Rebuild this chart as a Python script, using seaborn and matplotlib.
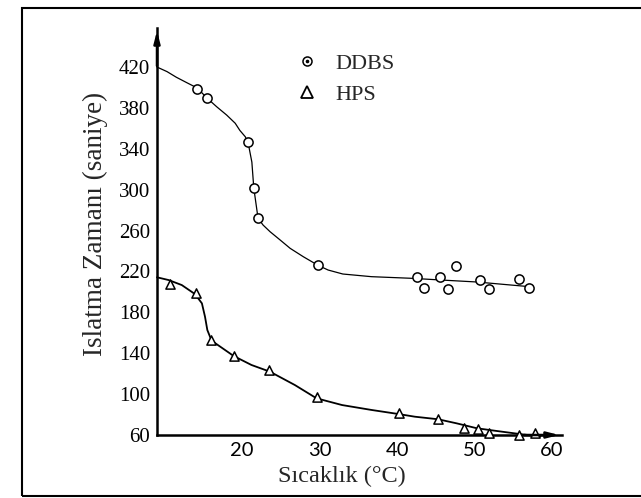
import matplotlib
matplotlib.use("Agg")
import matplotlib.pyplot as plt
from matplotlib.lines import Line2D
from matplotlib.patches import Rectangle
import seaborn as sns

# ---- data ----
ddbs_temp = [14.2, 15.45, 20.75, 21.5, 22.05, 29.8, 42.6, 43.5, 45.6, 46.6, 47.6, 50.7, 51.9, 55.8, 57.1]
ddbs_time = [399, 390, 347, 302, 272, 226, 215, 204, 215, 203, 225, 212, 203, 213, 204]

ddbs_curve_temp = [9.0, 10.3, 11.5, 12.9, 14.2, 15.45, 16.7, 18.0, 19.1, 19.7, 20.4, 20.75,
                   21.25, 21.5, 22.05, 22.7, 23.6, 24.9, 26.2, 27.9, 29.8, 31.1, 33.0,
                   36.7, 41.9, 46.0, 50.3, 54.0, 57.6]
ddbs_curve_time = [420, 415.5, 410, 404.5, 399.5, 389.7, 381.2, 373, 365, 358, 351.8, 346.6,
                   327, 301.6, 272, 265.4, 258.9, 250.8, 242.6, 234.4, 226, 221.4, 217.5,
                   214.9, 213.3, 211.5, 209.7, 207.2, 204.8]

hps_temp = [10.7, 14.0, 16.0, 19.0, 23.5, 29.7, 40.2, 45.3, 48.6, 50.5, 51.9, 55.8, 57.8]
hps_time = [208, 199, 153, 137, 124, 97, 82, 76, 67, 66, 62, 60, 62]

hps_curve_temp = [9.0, 10.5, 12.2, 13.9, 14.8, 15.2, 15.5, 16.05, 18.9, 21.2, 23.6, 26.8,
                  29.6, 32.9, 36.7, 40.2, 42.3, 45.3, 47.7, 50.3, 53.0, 55.8, 58.5]
hps_curve_time = [214.3, 211.6, 206.7, 197.9, 188.8, 175.7, 162.7, 152.3, 137.3, 128.5, 121.9, 108.9,
                  95.9, 89.3, 84.5, 80.5, 77.9, 75.4, 71.4, 66.6, 63.8, 61, 58.5]

x_ticks = [20, 30, 40, 50, 60]
y_ticks = [60, 100, 140, 180, 220, 260, 300, 340, 380, 420]
x_label = "Sıcaklık (°C)"
y_label = "Islatma Zamanı (saniye)"
series_names = ["DDBS", "HPS"]

# ---- style ----
sns.set_style("white")
plt.rcParams["font.family"] = ["Liberation Serif", "DejaVu Serif"]

W, H = 641, 498
fig = plt.figure(figsize=(W / 100, H / 100), dpi=100)
ax = fig.add_axes([157 / W, (H - 435) / H, (562 - 157) / W, (435 - 28) / H])

# fitted curves
sns.lineplot(x=ddbs_curve_temp, y=ddbs_curve_time, sort=False, estimator=None,
             color="black", lw=0.9, ax=ax)
sns.lineplot(x=hps_curve_temp, y=hps_curve_time, sort=False, estimator=None,
             color="black", lw=1.3, ax=ax)
for ln in ax.lines:
    ln.set_clip_on(False)
    ln.set_solid_joinstyle("round")

# measured points
sns.scatterplot(x=ddbs_temp, y=ddbs_time, marker="o", s=44, facecolor="white",
                edgecolor="black", linewidth=1.1, ax=ax, zorder=3, clip_on=False)
sns.scatterplot(x=hps_temp, y=hps_time, marker="^", s=44, facecolor="white",
                edgecolor="black", linewidth=1.1, ax=ax, zorder=3, clip_on=False)

ax.set_xlim(9.0, 61.3)
ax.set_ylim(60, 458.2)

ax.set_xticks(x_ticks)
ax.set_xticklabels([str(t) for t in x_ticks], family=["Lato", "DejaVu Sans"], fontsize=14.5)
ax.set_yticks(y_ticks)
ax.set_yticklabels([str(t) for t in y_ticks], fontsize=15)
ax.tick_params(axis="x", direction="in", length=4, width=1.2, pad=5, colors="black")
ax.tick_params(axis="y", direction="out", length=3, width=1.2, pad=2, colors="black")

for side in ["top", "right"]:
    ax.spines[side].set_visible(False)
for side in ["left", "bottom"]:
    ax.spines[side].set_linewidth(1.8)
    ax.spines[side].set_color("black")

# axis arrows
ax.annotate("", xy=(0, 1.0), xytext=(0, 0.9), xycoords="axes fraction",
            arrowprops=dict(arrowstyle="-|>,head_length=0.7,head_width=0.18", color="black", lw=1.8))
ax.annotate("", xy=(1.0, 0), xytext=(0.9, 0), xycoords="axes fraction",
            arrowprops=dict(arrowstyle="-|>,head_length=0.7,head_width=0.18", color="black", lw=1.8))

ax.set_xlabel("")
ax.set_ylabel("")
fig.text(342 / W, 1 - 476 / H, x_label, ha="center", va="center", fontsize=17.5)
fig.text(95 / W, 1 - 224 / H, y_label, ha="center", va="center", rotation=90, fontsize=19.5)

# legend
h_ddbs = (Line2D([], [], ls="none", marker="o", ms=6.5, mfc="white", mec="black", mew=1.1),
          Line2D([], [], ls="none", marker="o", ms=1.6, mfc="black", mec="black"))
h_hps = Line2D([], [], ls="none", marker="^", ms=8, mfc="white", mec="black", mew=1.3)
fig.legend([h_ddbs, h_hps], series_names, loc="upper left",
           bbox_to_anchor=(296 / W, 1 - 53 / H), frameon=False, fontsize=16,
           handlelength=1.0, handletextpad=0.75, labelspacing=0.5, borderpad=0, borderaxespad=0)

# outer frame of the scanned page
fig.add_artist(Rectangle((22 / W, 2 / H), 1.0, (496 - 8) / H, transform=fig.transFigure,
                         fill=False, lw=1.5, edgecolor="black"))

fig.savefig("out.png", dpi=100, facecolor="white")
